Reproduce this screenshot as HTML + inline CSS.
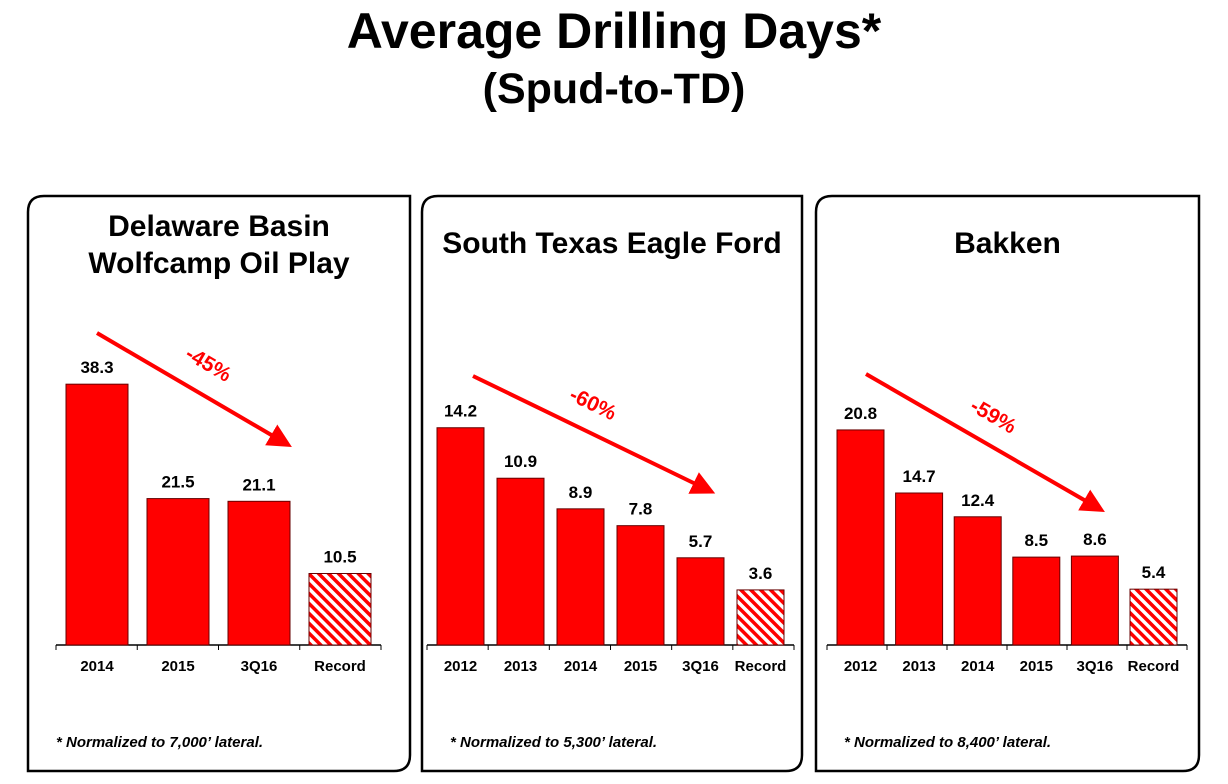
<!DOCTYPE html>
<html><head><meta charset="utf-8"><style>
body{margin:0;background:#fff;width:1228px;height:784px;overflow:hidden;font-family:"Liberation Sans",Arial,sans-serif}
svg{position:absolute;left:0;top:0}
</style></head><body>
<svg id="chart" width="1228" height="784">
<defs><pattern id="hatch" patternUnits="userSpaceOnUse" width="7" height="7" patternTransform="rotate(-45)">
<rect width="7" height="7" fill="#fff"/><rect width="3.5" height="7" fill="#f00"/></pattern>
<marker id="ah" markerWidth="6" markerHeight="6" refX="4" refY="3" orient="auto" markerUnits="strokeWidth"><path d="M0,0 L6,3 L0,6 z" fill="#f00"/></marker></defs>
<text x="614" y="48" text-anchor="middle" font-size="50" font-weight="bold">Average Drilling Days*</text>
<text x="614" y="103" text-anchor="middle" font-size="43" font-weight="bold">(Spud-to-TD)</text>
</svg>
<script>
const titles1=["Delaware Basin","Wolfcamp Oil Play"];
const titles2=["South Texas Eagle Ford"];
const titles3=["Bakken"];
const cats1=["2014","2015","3Q16","Record"];
const vals1=[38.3,21.5,21.1,10.5];
const cats2=["2012","2013","2014","2015","3Q16","Record"];
const vals2=[14.2,10.9,8.9,7.8,5.7,3.6];
const cats3=["2012","2013","2014","2015","3Q16","Record"];
const vals3=[20.8,14.7,12.4,8.5,8.6,5.4];
const pct=["-45%","-60%","-59%"];
const notes=["* Normalized to 7,000\u2019 lateral.","* Normalized to 5,300\u2019 lateral.","* Normalized to 8,400\u2019 lateral."];
const svg=document.getElementById('chart');
const NS="http://www.w3.org/2000/svg";
function mk(t,a,txt){const e=document.createElementNS(NS,t);for(const k in a)e.setAttribute(k,a[k]);if(txt!=null)e.textContent=txt;svg.appendChild(e);return e;}
const panels=[
 {x0:28,x1:410,titles:titles1,ty:[236,273],cats:cats1,vals:vals1,bx:66,bw:62,pitch:81,scale:6.81,arrow:[97,333,285,443],px:205,py:370},
 {x0:422,x1:802,titles:titles2,ty:[253],cats:cats2,vals:vals2,bx:437,bw:47,pitch:60,scale:15.3,arrow:[473,376,708,490],px:590,py:410},
 {x0:816,x1:1199,titles:titles3,ty:[253],cats:cats3,vals:vals3,bx:837,bw:47,pitch:58.6,scale:10.34,arrow:[866,374,1098,508],px:990,py:422}
];
const base=645;
panels.forEach((p,i)=>{
 const r=16,y0=196,y1=771;
 let e=mk('path',{d:`M${p.x0},${y1} L${p.x0},${y0+r} Q${p.x0},${y0} ${p.x0+r},${y0} L${p.x1},${y0} L${p.x1},${y1-r} Q${p.x1},${y1} ${p.x1-r},${y1} Z`,fill:'none',stroke:'#000','stroke-width':2.5});
 
 
 const cx=(p.x0+p.x1)/2;
 p.titles.forEach((t,j)=>{e=mk('text',{x:cx,y:p.ty[j],'text-anchor':'middle','font-size':30,'font-weight':'bold'},t);
 
 });
 const n=p.vals.length;
 const axL=p.bx-10,axR=p.bx+(n-1)*p.pitch+p.bw+10;
 e=mk('line',{x1:axL,y1:base,x2:axR,y2:base,stroke:'#000','stroke-width':1.5});
 
 
 for(let k=0;k<=n;k++){const tx=axL+k*(axR-axL)/n;mk('line',{x1:tx,y1:base,x2:tx,y2:base+5,stroke:'#000','stroke-width':1});}
 p.vals.forEach((v,k)=>{
  const x=p.bx+k*p.pitch,h=v*p.scale,last=k==n-1;
  e=mk('rect',{x:x,y:base-h,width:p.bw,height:h,fill:last?'url(#hatch)':'#f00',stroke:'#600','stroke-width':1});
  
  
  e=mk('text',{x:x+p.bw/2,y:base-h-11,'text-anchor':'middle','font-size':17,'font-weight':'bold'},v.toFixed(1));
  
  
  e=mk('text',{x:x+p.bw/2,y:base+26,'text-anchor':'middle','font-size':15,'font-weight':'bold'},p.cats[k]);
  
  
 });
 const a=p.arrow;
 e=mk('line',{x1:a[0],y1:a[1],x2:a[2],y2:a[3],stroke:'#f00','stroke-width':4,'marker-end':'url(#ah)'});
 
 
 const ang=Math.atan2(a[3]-a[1],a[2]-a[0])*180/Math.PI;
 e=mk('text',{x:p.px,y:p.py,'text-anchor':'middle','font-size':21,'font-weight':'bold',fill:'#f00',transform:`rotate(${ang} ${p.px} ${p.py})`},pct[i]);
 
 
 e=mk('text',{x:p.x0+28,y:747,'font-size':15,'font-weight':'bold','font-style':'italic'},notes[i]);
 
 
});
</script>
</body></html>
